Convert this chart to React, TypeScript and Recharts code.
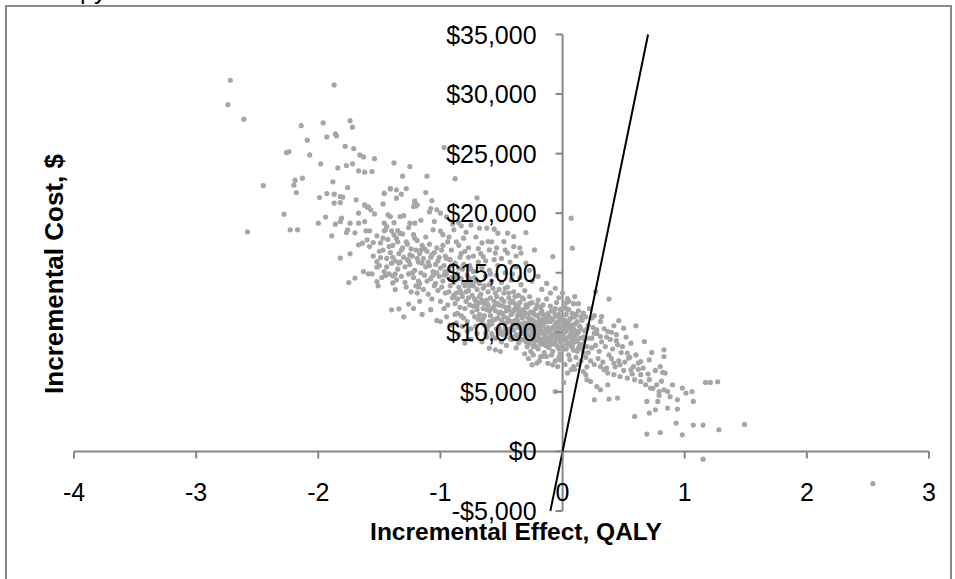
import {
  ScatterChart,
  Scatter,
  XAxis,
  YAxis,
  ReferenceLine,
  ReferenceDot,
} from 'recharts'

// Each point is [incremental effect (QALY), incremental cost ($)]
type Pair = [number, number]

// Sparse points on the upper-left side of the cloud
const upperLeft: Pair[] = [
  [-2.72, 31160], [-1.87, 30770], [-2.74, 29110], [-2.61, 27890], [-2.14, 27350], [-1.96, 27580],
  [-1.74, 27770], [-1.72, 27220], [-1.86, 26650], [-1.85, 26490], [-1.93, 26400], [-2.09, 26130],
  [-2.26, 25090], [-2.24, 25150], [-2.07, 24890], [-1.78, 25620], [-1.71, 25420], [-1.66, 24890],
  [-1.63, 24720], [-1.54, 24580], [-1.38, 24220], [-1.98, 24140], [-1.84, 23800], [-1.77, 24000],
  [-1.72, 24140], [-1.67, 23550], [-1.62, 23440], [-1.56, 23490], [-2.45, 22320], [-2.19, 22770],
  [-2.13, 22940], [-2.2, 22350], [-2.18, 21730], [-1.88, 22630], [-1.76, 22150], [-1.99, 21310],
  [-1.93, 21650], [-1.87, 21600], [-1.82, 21400], [-1.8, 21340], [-1.87, 20840], [-1.82, 20890],
  [-1.69, 21120], [-1.62, 20670], [-1.59, 20530], [-1.46, 21650], [-1.41, 22070], [-1.36, 21960],
  [-1.47, 20780], [-1.36, 21260], [-2.58, 18430], [-2.28, 19920], [-2.23, 18600], [-2.17, 18600],
  [-2.0, 19160], [-1.94, 19670], [-1.86, 19080], [-1.82, 19300], [-1.81, 19580], [-1.89, 18100],
  [-1.82, 16230], [-1.74, 16590], [-1.75, 14180], [-1.7, 14550], [-1.77, 18380], [-1.76, 18600],
  [-1.74, 19160], [-1.7, 18350], [-1.67, 19160], [-1.62, 19300], [-1.67, 20000], [-1.62, 20700],
  [-1.6, 20500], [-1.57, 20280], [-1.54, 19940], [-1.61, 18520], [-1.58, 18520], [-1.67, 17340],
  [-1.64, 17480], [-1.6, 17760], [-1.55, 17540], [-1.63, 15100], [-1.59, 14910], [-1.56, 14910],
  [-1.52, 14260], [-1.51, 13900], [-1.45, 14770], [-1.39, 14740], [-1.52, 15470], [-1.52, 15940],
  [-1.49, 16280], [-1.37, 13590], [-1.39, 14150], [-1.4, 11890], [-1.34, 11970], [-1.26, 12370],
  [-1.43, 19860], [-1.41, 19720], [-1.33, 19720], [-1.46, 19160], [-1.44, 18880], [-1.46, 18520],
  [-1.4, 18520], [-1.38, 18180], [-1.35, 18540], [-1.31, 18260], [-1.25, 19160], [-1.21, 19160],
  [-1.21, 20840], [-1.2, 20610], [-1.19, 13290], [-1.18, 13790],
]

// Upper-middle scatter above the dense core
const upperMid: Pair[] = [
  [-1.25, 23910], [-1.31, 23110], [-1.11, 23110], [-0.88, 22900], [-0.97, 25510], [-1.41, 22040],
  [-1.28, 22070], [-1.46, 21680], [-1.32, 21600], [-1.12, 21730], [-1.21, 21030], [-1.19, 20700],
  [-1.22, 20560], [-1.07, 21060], [-1.08, 20390], [-1.09, 20110], [-1.03, 20280], [-1.0, 20000],
  [-0.7, 21290], [-0.83, 18940], [-0.68, 18740], [-0.62, 18740], [-0.56, 18660], [-0.45, 18320],
  [-0.4, 18040], [-0.3, 18370], [-0.23, 16920], [-0.08, 16360], [-0.53, 18320], [-0.61, 17620],
  [-0.48, 17620], [-0.45, 16650], [-0.4, 17200], [-0.34, 16650], [-0.69, 17030], [-0.65, 16360],
  [-0.6, 16920], [-0.55, 16650], [0.07, 19580], [0.08, 17060],
  [-1.05, 19300], [-1.0, 18500], [-0.98, 17300], [-0.95, 19700], [-0.93, 18000], [-0.91, 16900],
  [-0.89, 18600], [-0.87, 17600], [-0.85, 19200], [-0.83, 16600], [-0.81, 17900], [-0.79, 18400],
  [-0.77, 17100], [-0.75, 19000], [-0.73, 16400], [-0.71, 18000], [-0.66, 17500], [-0.63, 16000],
  [-0.58, 17600], [-0.54, 17100], [-0.5, 16200], [-0.47, 16900], [-0.43, 15900], [-0.38, 16400],
  [-0.35, 17100], [-0.3, 15800], [-0.27, 15200], [-0.25, 14300], [-0.2, 14700], [-0.17, 13600],
  [-0.13, 14100], [-0.1, 13300], [-0.06, 13700], [-0.03, 12900], [0.0, 13300], [0.05, 12600],
  [0.1, 13000], [0.13, 12400], [0.22, 12000], [0.26, 11400], [0.21, 10600], [0.24, 11200],
  [0.28, 10200], [0.34, 10300], [0.36, 9600], [0.4, 10000], [0.44, 9300], [0.52, 9600],
]

// Band from about -1.6 to -0.9 QALY
const bandLeft: Pair[] = [
  [-1.58, 17200], [-1.55, 16400], [-1.52, 18100], [-1.5, 15600], [-1.49, 17500], [-1.47, 16900],
  [-1.46, 15100], [-1.45, 18600], [-1.44, 16200], [-1.43, 17800], [-1.42, 14900], [-1.41, 16700],
  [-1.4, 15800], [-1.39, 17300], [-1.38, 19200], [-1.37, 16000], [-1.36, 14400], [-1.36, 17900],
  [-1.35, 15300], [-1.34, 16600], [-1.33, 18300], [-1.33, 15900], [-1.32, 14700], [-1.31, 17100],
  [-1.3, 16300], [-1.3, 19800], [-1.29, 15500], [-1.28, 13800], [-1.28, 17600], [-1.27, 16100],
  [-1.26, 14900], [-1.26, 18800], [-1.25, 15700], [-1.24, 17000], [-1.24, 13400], [-1.23, 16400],
  [-1.22, 14600], [-1.22, 18200], [-1.21, 15200], [-1.2, 16900], [-1.2, 13900], [-1.19, 17700],
  [-1.18, 15900], [-1.18, 14300], [-1.17, 16600], [-1.16, 19400], [-1.16, 15000], [-1.15, 17300],
  [-1.14, 13600], [-1.14, 16200], [-1.13, 14800], [-1.12, 18000], [-1.12, 15500], [-1.11, 16800],
  [-1.1, 13200], [-1.1, 15900], [-1.09, 17400], [-1.08, 14500], [-1.08, 16300], [-1.07, 12800],
  [-1.06, 15100], [-1.06, 18600], [-1.05, 16700], [-1.04, 14100], [-1.04, 15700], [-1.03, 17100],
  [-1.02, 13500], [-1.02, 16000], [-1.01, 14700], [-1.0, 15400], [-1.0, 12600], [-0.99, 16900],
  [-0.98, 14300], [-0.98, 18200], [-0.97, 15600], [-0.96, 13300], [-0.96, 16400], [-0.95, 14900],
  [-0.94, 12300], [-0.94, 17600], [-0.93, 15200], [-0.92, 13900], [-0.92, 16100], [-0.91, 14600],
  [-0.9, 12900], [-0.9, 19100], [-1.3, 11300], [-1.22, 12000], [-1.15, 11500], [-1.08, 11900],
  [-1.03, 11000], [-0.97, 12000], [-1.17, 12600],
  [-1.5, 16800], [-1.48, 14600], [-1.47, 17900], [-1.44, 15500], [-1.42, 17200], [-1.39, 16300],
  [-1.37, 14900], [-1.35, 17600], [-1.34, 15800], [-1.32, 16900], [-1.29, 14200], [-1.27, 17400],
  [-1.25, 16500], [-1.23, 15000], [-1.21, 17900], [-1.19, 16200], [-1.17, 14100], [-1.15, 15800],
  [-1.13, 17000], [-1.11, 14300], [-1.09, 15600], [-1.07, 16500], [-1.05, 13900], [-1.03, 15000],
  [-1.01, 16300], [-0.99, 13800], [-0.97, 14800], [-0.95, 16200], [-0.93, 13400], [-0.91, 15600],
  [-1.26, 16000], [-1.16, 16900], [-1.06, 14800], [-0.96, 15100],
]

// Dense middle of the cloud, -0.9 to -0.3 QALY
const bandMid: Pair[] = [
  [-0.89, 14200], [-0.88, 12400], [-0.88, 15800], [-0.87, 13300], [-0.86, 11600], [-0.86, 14900],
  [-0.85, 13800], [-0.84, 16300], [-0.84, 12100], [-0.83, 14500], [-0.82, 13000], [-0.82, 15300],
  [-0.81, 11200], [-0.8, 13900], [-0.8, 16800], [-0.79, 12600], [-0.78, 14800], [-0.78, 10900],
  [-0.77, 13500], [-0.76, 15600], [-0.76, 12300], [-0.75, 14200], [-0.74, 11700], [-0.74, 13100],
  [-0.73, 15100], [-0.72, 12800], [-0.72, 14600], [-0.71, 10500], [-0.7, 13600], [-0.7, 11900],
  [-0.69, 15900], [-0.68, 12500], [-0.68, 14100], [-0.67, 13200], [-0.66, 10900], [-0.66, 15400],
  [-0.65, 12000], [-0.64, 13900], [-0.64, 11400], [-0.63, 14700], [-0.62, 12700], [-0.62, 10200],
  [-0.61, 13400], [-0.6, 15200], [-0.6, 11800], [-0.59, 12900], [-0.58, 14300], [-0.58, 10700],
  [-0.57, 13700], [-0.56, 12200], [-0.56, 16100], [-0.55, 11100], [-0.54, 13000], [-0.54, 14800],
  [-0.53, 12400], [-0.52, 10400], [-0.52, 13600], [-0.51, 11700], [-0.5, 14200], [-0.5, 12800],
  [-0.49, 9800], [-0.48, 13300], [-0.48, 11300], [-0.47, 15000], [-0.46, 12100], [-0.46, 10800],
  [-0.45, 13800], [-0.44, 11900], [-0.44, 12900], [-0.43, 10300], [-0.42, 14400], [-0.42, 11500],
  [-0.41, 12600], [-0.4, 13400], [-0.4, 9600], [-0.39, 11000], [-0.38, 12300], [-0.38, 15500],
  [-0.37, 10600], [-0.36, 13100], [-0.36, 11800], [-0.35, 12500], [-0.34, 9900], [-0.34, 14000],
  [-0.33, 11200], [-0.32, 12800], [-0.32, 10400], [-0.31, 13500], [-0.3, 11600], [-0.3, 9200],
  [-0.87, 10800], [-0.85, 17300], [-0.83, 11400], [-0.81, 14100], [-0.79, 13400], [-0.77, 16300],
  [-0.75, 10300], [-0.73, 12200], [-0.71, 14300], [-0.69, 11100], [-0.67, 16600], [-0.65, 13700],
  [-0.63, 9900], [-0.61, 12300], [-0.59, 14900], [-0.57, 11000], [-0.55, 13300], [-0.53, 15600],
  [-0.51, 10100], [-0.49, 12200], [-0.47, 13700], [-0.45, 11200], [-0.43, 12500], [-0.41, 14900],
  [-0.39, 13000], [-0.37, 11400], [-0.35, 14600], [-0.33, 12900], [-0.31, 10800], [-0.84, 13500],
  [-0.8, 12000], [-0.76, 13900], [-0.72, 11300], [-0.68, 13000], [-0.64, 12400], [-0.6, 14000],
  [-0.56, 12600], [-0.52, 11600], [-0.48, 12600], [-0.44, 13300], [-0.4, 11800], [-0.36, 12100],
  [-0.32, 11900], [-0.75, 9400], [-0.7, 9900], [-0.66, 9200], [-0.62, 9600], [-0.58, 9900],
  [-0.55, 9500], [-0.52, 10000], [-0.49, 10800], [-0.45, 9900], [-0.41, 10600], [-0.37, 9600],
  [-0.33, 10200], [-0.95, 11300], [-0.92, 10600], [-0.88, 11500], [-0.85, 9800], [-0.82, 10500],
  [-0.8, 9100], [-0.78, 10100], [-1.0, 10900],
  [-0.89, 13100], [-0.87, 14600], [-0.85, 15400], [-0.83, 13300], [-0.81, 15700], [-0.79, 14200],
  [-0.77, 12900], [-0.75, 15300], [-0.73, 13900], [-0.71, 12600], [-0.86, 12800], [-0.76, 14500],
]

// Densest part, around zero effect
const core: Pair[] = [
  [-0.3, 10600], [-0.29, 12100], [-0.29, 8800], [-0.28, 11200], [-0.28, 9700], [-0.27, 13000],
  [-0.27, 10300], [-0.26, 11700], [-0.26, 8400], [-0.25, 10000], [-0.25, 12500], [-0.24, 9300],
  [-0.24, 11000], [-0.23, 10700], [-0.23, 8900], [-0.22, 12000], [-0.22, 9600], [-0.21, 11400],
  [-0.21, 10200], [-0.2, 8600], [-0.2, 12700], [-0.19, 9900], [-0.19, 11100], [-0.18, 10500],
  [-0.18, 9000], [-0.17, 11800], [-0.17, 10100], [-0.16, 9400], [-0.16, 12300], [-0.15, 10800],
  [-0.15, 8300], [-0.14, 11300], [-0.14, 9700], [-0.13, 10300], [-0.13, 12800], [-0.12, 9100],
  [-0.12, 11600], [-0.11, 10000], [-0.11, 8700], [-0.1, 10900], [-0.1, 12200], [-0.09, 9500],
  [-0.09, 11000], [-0.08, 10400], [-0.08, 8400], [-0.07, 11700], [-0.07, 9800], [-0.06, 10600],
  [-0.06, 9000], [-0.05, 12500], [-0.05, 10200], [-0.04, 11300], [-0.04, 8800], [-0.03, 9600],
  [-0.03, 10900], [-0.02, 11900], [-0.02, 8200], [-0.01, 10300], [-0.01, 9300], [0.0, 11100],
  [0.0, 9900], [0.01, 10600], [0.01, 8600], [0.02, 12100], [0.02, 9500], [0.03, 10100],
  [0.03, 11500], [0.04, 9000], [0.04, 10800], [0.05, 8100], [0.05, 11900], [0.06, 9700],
  [0.06, 10400], [0.07, 8800], [0.07, 11200], [0.08, 9400], [0.08, 10000], [0.09, 12400],
  [0.09, 8500], [0.1, 10700], [0.1, 9200], [0.11, 11500], [0.11, 7900], [0.12, 9900],
  [0.12, 10900], [0.13, 8700], [0.13, 11800], [0.14, 9500], [0.15, 10300], [0.15, 7600],
  [0.16, 9000], [0.16, 11000], [0.17, 8300], [0.18, 10100], [0.18, 9400], [0.19, 7900],
  [0.19, 11300], [0.2, 8800],
  [-0.29, 9900], [-0.27, 11600], [-0.26, 10400], [-0.24, 10200], [-0.23, 11500], [-0.22, 8800],
  [-0.21, 9300], [-0.2, 10800], [-0.19, 9500], [-0.18, 11600], [-0.17, 9100], [-0.16, 10600],
  [-0.15, 9800], [-0.14, 8900], [-0.13, 11100], [-0.12, 10400], [-0.11, 9500], [-0.1, 9900],
  [-0.09, 11800], [-0.08, 9700], [-0.07, 10500], [-0.06, 11400], [-0.05, 9400], [-0.04, 10000],
  [-0.03, 11500], [-0.02, 10500], [-0.01, 9800], [0.0, 8900], [0.01, 9400], [0.02, 11000],
  [0.03, 8600], [0.04, 10300], [0.05, 9600], [0.06, 11100], [0.07, 10000], [0.08, 8900],
  [0.09, 9700], [0.1, 11300], [0.12, 9300], [0.14, 10500], [0.16, 8600], [0.17, 9600],
  [0.2, 10300], [0.21, 8300], [0.22, 9500], [0.23, 7600], [0.24, 8700], [0.25, 10400],
  [0.26, 7300], [0.27, 8900], [0.28, 9900], [0.29, 7800], [0.3, 8400], [0.32, 9200],
  [0.33, 7500], [0.35, 8800], [0.36, 7000], [0.38, 8100], [0.39, 9400], [0.4, 7800],
  [0.41, 8600], [0.43, 7100], [0.44, 9800], [0.46, 7600], [0.48, 8300], [0.5, 6800],
  [0.51, 7500], [0.55, 7900], [0.57, 6500], [0.6, 8100], [0.62, 6900], [0.66, 7000],
  [0.68, 5600], [0.7, 6500], [0.74, 5300], [0.76, 6800], [0.79, 4700], [0.81, 5900],
  [0.88, 4600], [0.9, 5600],
  [-0.5, 9200], [-0.46, 8900], [-0.42, 9400], [-0.38, 8700], [-0.35, 9300], [-0.31, 8200],
  [-0.28, 7800], [-0.24, 8100], [-0.19, 7600], [-0.16, 8000], [-0.12, 7400], [-0.09, 8100],
  [-0.06, 7600], [-0.03, 7900], [0.02, 7300], [0.06, 7700], [0.1, 6900], [0.13, 7300],
  [0.17, 6700], [0.2, 7100],
  [-0.7, 12200], [-0.68, 11500], [-0.66, 12700], [-0.64, 10600], [-0.62, 11900], [-0.6, 10900],
  [-0.58, 12000], [-0.57, 9600], [-0.55, 11800], [-0.54, 10300], [-0.52, 12300], [-0.51, 9900],
  [-0.5, 11000], [-0.49, 11600], [-0.47, 10400], [-0.46, 11800], [-0.45, 10100], [-0.44, 12100],
  [-0.43, 9500], [-0.42, 10900], [-0.41, 11700], [-0.4, 10200], [-0.39, 12000], [-0.38, 9800],
  [-0.37, 11000], [-0.36, 10400], [-0.35, 11500], [-0.34, 10700], [-0.33, 9400], [-0.32, 11300],
  [-0.31, 9900], [-0.3, 12300], [-0.29, 10300], [-0.28, 10800], [-0.27, 9100], [-0.26, 11100],
  [-0.25, 9600], [-0.24, 11700], [-0.23, 9900], [-0.22, 10500], [-0.21, 12300], [-0.2, 9800],
  [-0.19, 10400], [-0.18, 9300], [-0.17, 10900], [-0.16, 11500], [-0.15, 9200], [-0.14, 10200],
  [-0.13, 9500], [-0.12, 10900], [-0.11, 11300], [-0.1, 9300], [-0.09, 10300], [-0.08, 11100],
  [-0.07, 9100], [-0.06, 10000], [-0.05, 10800], [-0.04, 9700], [-0.03, 10400], [-0.02, 9200],
  [-0.01, 11200], [0.0, 10500], [0.01, 9900], [0.02, 10400], [0.03, 9300], [0.04, 11900],
  [0.05, 10500], [0.06, 9100], [0.07, 10600], [0.08, 11600], [0.09, 10300], [0.1, 9700],
  [0.11, 10100], [0.12, 8400], [0.13, 10000], [0.14, 9000], [0.15, 11300], [-0.65, 11200],
  [-0.61, 10500], [-0.59, 11400], [-0.53, 11200], [-0.48, 10000], [-0.44, 11000], [-0.4, 12500],
  [-0.36, 9100], [-0.33, 11700], [-0.3, 9600], [-0.27, 12400], [-0.24, 8800], [-0.21, 10800],
  [-0.18, 12100], [-0.15, 11200], [-0.12, 8800], [-0.09, 9000], [-0.06, 12000], [-0.03, 8600],
  [0.0, 12000], [0.03, 12500],
]

// Right-hand tail and stray points
const rightTail: Pair[] = [
  [0.38, 12790], [0.27, 13420], [0.04, 12840], [0.17, 11610], [0.32, 11330], [0.31, 10910],
  [0.46, 10990], [0.42, 10550], [0.5, 10350], [0.6, 10550], [0.37, 10070], [0.31, 9650],
  [0.26, 9930], [0.24, 9510], [0.45, 8950], [0.49, 8810], [0.56, 9090], [0.67, 9230],
  [0.83, 8530], [0.73, 8310], [0.83, 7970], [0.53, 8260], [0.54, 7840], [0.64, 7550],
  [0.62, 7420], [0.71, 7690], [0.8, 7130], [0.82, 6630], [0.84, 6580], [0.42, 7420],
  [0.47, 7270], [0.58, 7130], [0.56, 6860], [0.31, 7130], [0.34, 6860], [0.37, 6580],
  [0.42, 6440], [0.47, 6290], [0.53, 6160], [0.59, 6020], [0.64, 6440], [0.64, 5870],
  [0.71, 6020], [0.72, 5320], [0.77, 5600], [0.79, 5030], [0.83, 5180], [0.86, 5030],
  [0.98, 5320], [1.01, 4900], [1.06, 5030], [1.07, 4200], [1.17, 5790], [1.21, 5790],
  [1.27, 5850], [0.94, 4340], [0.94, 3560], [0.86, 3640], [0.78, 4200], [0.69, 4200],
  [0.76, 3500], [0.71, 3220], [0.59, 2940], [0.93, 2380], [1.07, 2210], [1.15, 2210],
  [1.28, 1820], [1.49, 2270], [0.69, 1460], [0.8, 1590], [0.98, 1400], [1.15, -650],
  [0.26, 4340], [0.38, 4400], [0.45, 4480], [0.31, 5180], [0.28, 5450], [0.37, 5600],
  [0.19, 6440], [0.2, 6020], [0.23, 5870], [0.01, 5790], [-0.06, 5030], [0.04, 6580],
  [0.07, 6860], [0.09, 7130], [-0.02, 7690], [-0.04, 7130], [-0.08, 7270], [-0.21, 7420],
  [-0.25, 7270], [-0.18, 7970], [-0.13, 7970], [-0.51, 8390], [-0.55, 8530], [-0.6, 8670],
  [2.54, -2710],
]

// Willingness-to-pay threshold line ($50,000 per QALY)
const wtpLine = [
  { effect: -0.1, cost: -5000 },
  { effect: 0.7, cost: 35000 },
]

const xTicks = [-4, -3, -2, -1, 0, 1, 2, 3]
const yTicks = [-5000, 0, 5000, 10000, 15000, 20000, 25000, 30000, 35000]

const cloud = [...upperLeft, ...upperMid, ...bandLeft, ...bandMid, ...core, ...rightTail].map(
  ([effect, cost]) => ({ effect, cost })
)

const FONT = 'Arial, "Liberation Sans", sans-serif'
const AXIS = '#868686'

const money = (v: number) =>
  (v < 0 ? '-$' : '$') + Math.abs(v).toLocaleString('en-US')

const dot = (p: any) => <circle cx={p.cx} cy={p.cy} r={2.6} fill="#a6a6a6" />

export default function App() {
  return (
    <div style={{ position: 'absolute', left: 0, top: 0, width: 955, height: 579, overflow: 'hidden', background: '#fff' }}>
      {/* chart area frame, axis titles and the cut-off text above the frame */}
      <svg width={955} height={579} style={{ position: 'absolute', left: 0, top: 0 }}>
        <text x={80} y={-1} fontSize={25} fontFamily={FONT} fill="#000">py</text>
        <rect x={6} y={6} width={945} height={700} fill="none" stroke="#898989" strokeWidth={2} />
        <text x={516} y={540} textAnchor="middle" fontSize={24.5} fontWeight="bold" fontFamily={FONT}>
          Incremental Effect, QALY
        </text>
        <text
          x={63}
          y={274}
          textAnchor="middle"
          fontSize={26}
          fontWeight="bold"
          fontFamily={FONT}
          transform="rotate(-90 63 274)"
        >
          Incremental Cost, $
        </text>
      </svg>
      <div style={{ position: 'absolute', left: 0, top: 0 }}>
        <ScatterChart width={955} height={579} margin={{ top: 34.5, right: 26, bottom: 68, left: 74 }}>
          <XAxis type="number" dataKey="effect" domain={[-4, 3]} hide />
          <YAxis type="number" dataKey="cost" domain={[-5000, 35000]} hide />
          <ReferenceLine y={0} stroke={AXIS} strokeWidth={2} />
          <ReferenceLine x={0} stroke={AXIS} strokeWidth={2} />
          <Scatter data={cloud} shape={dot} isAnimationActive={false} />
          <Scatter
            data={wtpLine}
            line={{ stroke: '#000', strokeWidth: 2 }}
            shape={() => <g />}
            isAnimationActive={false}
          />
          {xTicks.map((t) => (
            <ReferenceDot
              key={`x${t}`}
              x={t}
              y={0}
              shape={(p: any) => (
                <g>
                  <line x1={p.cx} y1={p.cy} x2={p.cx} y2={p.cy + 7} stroke={AXIS} strokeWidth={2} />
                  <text x={p.cx} y={p.cy + 50} textAnchor="middle" fontSize={25} fontFamily={FONT} fill="#000">
                    {t}
                  </text>
                </g>
              )}
            />
          ))}
          {yTicks.map((v) => (
            <ReferenceDot
              key={`y${v}`}
              x={0}
              y={v}
              shape={(p: any) => (
                <g>
                  <line x1={p.cx - 7} y1={p.cy} x2={p.cx} y2={p.cy} stroke={AXIS} strokeWidth={2} />
                  <text x={p.cx - 26} y={p.cy + 9} textAnchor="end" fontSize={25} fontFamily={FONT} fill="#000">
                    {money(v)}
                  </text>
                </g>
              )}
            />
          ))}
        </ScatterChart>
      </div>
    </div>
  )
}
